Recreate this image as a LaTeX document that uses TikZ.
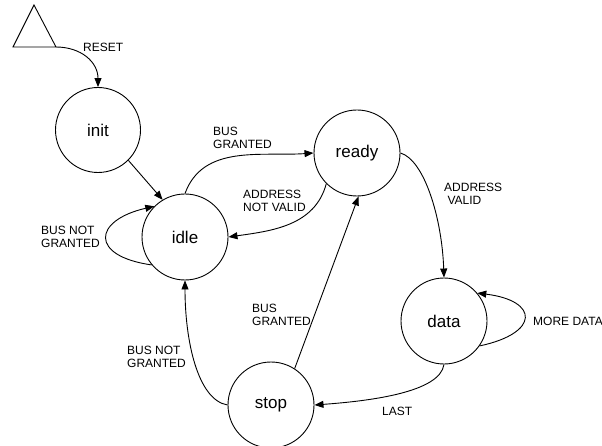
\documentclass[tikz,border=0pt]{standalone}
\usepackage{fontspec}
\setmainfont{Liberation Sans}
\usetikzlibrary{arrows.meta}
\begin{document}
\begin{tikzpicture}[x=1pt,y=1pt,
  state/.style={draw,circle,line width=0.9pt,minimum size=86pt,inner sep=0pt,font=\fontsize{17}{20}\selectfont},
  lbl/.style={anchor=west,inner sep=0pt,align=left,font=\fontsize{12}{13.6}\selectfont},
  edge/.style={line width=0.9pt,-{Triangle[length=9pt,width=7pt]}}]
\useasboundingbox (0,0) rectangle (602,-446);

% states
\node[state,minimum size=85pt] (init)  at (98,-130)  {init};
\node[state] (idle)  at (185,-237) {idle};
\node[state] (ready) at (357,-153) {ready};
\node[state] (data)  at (444,-321) {data};
\node[state] (stop)  at (271,-405) {stop};

% reset symbol
\coordinate (tl) at (13,-47);
\coordinate (tt) at (34,-5);
\coordinate (tr) at (56,-47);
\draw[line width=0.9pt] (tl) -- (tt) -- (tr) -- cycle;

% transitions
\draw[edge] (tr) .. controls +(25,0) and +(0,25) .. (init.90);
\draw[edge] (init.-45) -- (idle.121);
\draw[edge] (idle.90) to[out=70,in=184] (ready.180);
\draw[edge] (ready.-135) to[out=-105,in=8] (idle.0);
\draw[edge] (idle.220) .. controls +(172:63) and +(193:63) .. (idle.135);
\draw[edge] (ready.0) .. controls +(24,-7) and +(-2,59) .. (data.90);
\draw[edge] (data.-35) .. controls +(12:62) and +(-7:62) .. (data.40);
\draw[edge] (data.270) .. controls +(-4,-28) and +(55,4) .. (stop.0);
\draw[edge] (stop.57) -- (ready.-88);
\draw[edge] (stop.180) .. controls +(-30,5) and +(0,-60) .. (idle.270);

% transition labels
\node[lbl] (lreset) at (83,-47)  {RESET};
\node[lbl] (lbg1)   at (213,-138) {BUS\\GRANTED};
\node[lbl] (lanv)   at (243,-201) {ADDRESS\\NOT VALID};
\node[lbl] (lbng1)  at (41,-237)  {BUS NOT\\GRANTED};
\node[lbl] (lav)    at (444,-194) {ADDRESS\\\hspace*{0.28em}VALID};
\node[lbl] (lmore)  at (533,-321) {MORE DATA};
\node[lbl] (lbg2)   at (252,-315) {BUS\\GRANTED};
\node[lbl] (lbng2)  at (127,-357) {BUS NOT\\GRANTED};
\node[lbl] (llast)  at (382,-411) {LAST};
\end{tikzpicture}
\end{document}
